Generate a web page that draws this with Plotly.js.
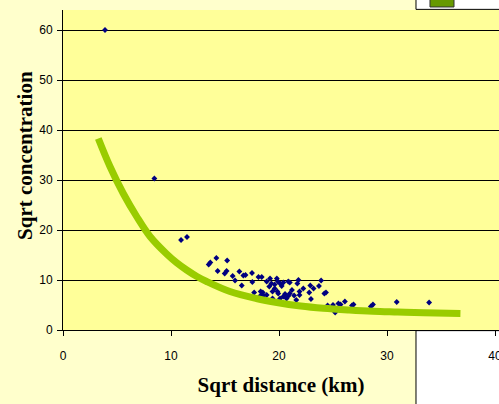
<!DOCTYPE html>
<html>
<head>
<meta charset="utf-8">
<script src="https://cdn.plot.ly/plotly-3.0.1.min.js"></script>
<style>html,body{margin:0;padding:0;background:#FFFFCC;}#chart{width:499px;height:404px;}</style>
</head>
<body>
<div id="chart"></div>
<script>
// Observed data: sqrt distance (km) vs sqrt concentration
var distX = [3.89,8.46,10.93,11.48,13.49,13.64,14.2,15.2,14.32,14.97,15.15,15.71,15.93,16.33,16.7,16.9,17.5,17.53,16.55,18.1,18.4,17.7,18.3,18.5,18.55,18.3,18.86,19.4,19.17,19.8,20.1,19.3,18.86,19.6,19.4,19.85,20.25,19.1,19.9,19.6,20.4,19.93,20.4,20.56,20.1,20.86,21.0,21.8,21.7,21.2,21.0,20.86,20.7,21.4,21.9,21.9,21.6,22.25,22.9,22.8,23.2,23.7,23.9,22.96,24.2,24.35,25.0,25.5,25.7,26.1,26.76,26.9,28.5,28.7,30.9,33.9,25.2,24.5];
var concY = [60,30.3,18.0,18.6,13.1,13.5,14.4,13.9,11.8,11.3,11.8,10.8,9.9,11.7,10.9,11.0,11.4,9.6,8.9,10.6,10.6,7.5,6.9,7.5,6.9,7.7,7.0,6.3,10.3,10.3,9.3,9.3,9.7,8.3,7.7,7.7,8.8,8.7,9.7,9.1,9.5,7.3,6.7,7.2,6.3,9.7,9.5,10.0,9.3,8.0,7.3,6.8,6.3,6.9,7.7,7.0,6.0,8.3,8.9,7.5,8.3,8.8,9.9,6.2,7.3,7.5,5.0,5.3,5.1,5.7,4.9,5.1,4.7,5.1,5.6,5.5,3.5,4.9];
// Trend line
var trendX = [3.27,4.35,5.58,6.82,8.06,9.6,10.5,11.45,12.4,13.3,15.46,17.9,19.8,22.0,24.1,26.5,28.7,31.0,33.4,36.8];
var trendY = [38.3,32.7,27.3,22.7,18.7,15.2,13.5,12.0,10.7,9.7,7.7,6.3,5.5,4.8,4.35,4.0,3.75,3.6,3.45,3.3];
var yTicks = [0,10,20,30,40,50,60];
var xTicks = [0,10,20,30,40];

var traces = [
  {x: distX, y: concY, type: 'scatter', mode: 'markers', name: 'Data',
   marker: {symbol: 'diamond', size: 4.5, color: '#000080'}, showlegend: false},
  {x: trendX, y: trendY, type: 'scatter', mode: 'lines', name: 'Trend',
   line: {color: '#99CC00', width: 7, shape: 'spline', smoothing: 1}, showlegend: false}
];

var layout = {
  width: 499, height: 404,
  margin: {l: 63, r: 0, t: 10, b: 74},
  paper_bgcolor: '#FFFFCC',
  plot_bgcolor: '#FFFF99',
  font: {family: 'Liberation Sans, Arial, sans-serif', size: 12, color: '#000'},
  xaxis: {
    range: [0, 40.37], tickvals: xTicks, ticktext: xTicks.map(String),
    showgrid: false, zeroline: false, showline: true, linecolor: '#000', linewidth: 1,
    ticks: 'outside', ticklen: 5, tickcolor: '#000', ticklabelstandoff: 10,
    ticklabeloverflow: 'allow',
    title: {text: 'Sqrt distance (km)', standoff: 14,
            font: {family: 'Liberation Serif, Times New Roman, serif', size: 21, color: '#000', weight: 'bold'}}
  },
  yaxis: {
    range: [0, 64], tickvals: yTicks, ticktext: yTicks.map(String),
    showgrid: true, gridcolor: '#000', gridwidth: 1, zeroline: false,
    showline: true, linecolor: '#000', linewidth: 1,
    ticks: 'outside', ticklen: 5, tickcolor: '#000', ticklabelstandoff: 2
  },
  annotations: [
    {text: '<b>Sqrt concentration</b>', xref: 'paper', yref: 'paper', x: -0.0872, y: 0.547,
     xanchor: 'center', yanchor: 'middle', textangle: -90, showarrow: false,
     font: {family: 'Liberation Serif, Times New Roman, serif', size: 21, color: '#000'}}
  ],
  shapes: [
    {type: 'rect', xref: 'paper', yref: 'paper', x0: 0.8096, x1: 1.02, y0: -0.25, y1: -0.002,
     fillcolor: '#FFFFFF', line: {color: '#000', width: 1}, layer: 'below'},
    {type: 'rect', xref: 'paper', yref: 'paper', x0: 0.8096, x1: 1.02, y0: 1.002, y1: 1.05,
     fillcolor: '#FFFFFF', line: {color: '#000', width: 1}, layer: 'below'},
    {type: 'rect', xref: 'paper', yref: 'paper', x0: 0.8417, x1: 0.8968, y0: 1.0094, y1: 1.05,
     fillcolor: '#669900', line: {color: '#333', width: 1}, layer: 'below'}
  ]
};

Plotly.newPlot('chart', traces, layout, {staticPlot: true, displayModeBar: false});
</script>
</body>
</html>
